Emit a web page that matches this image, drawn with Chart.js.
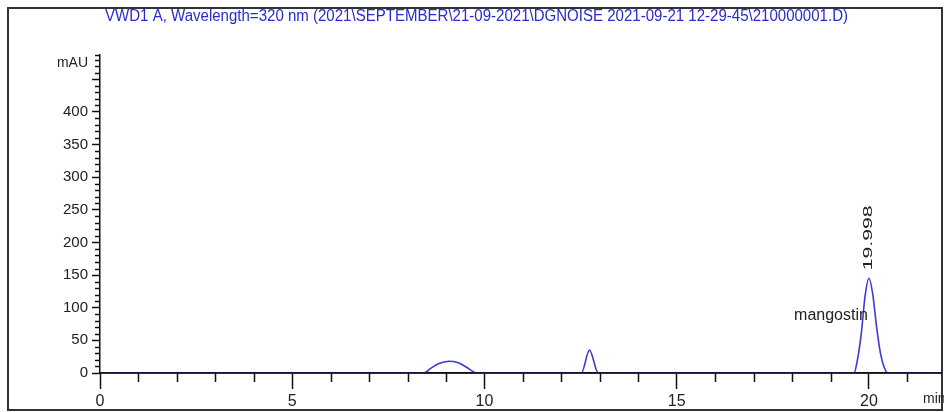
<!DOCTYPE html>
<html>
<head>
<meta charset="utf-8">
<script src="https://cdn.jsdelivr.net/npm/chart.js@4.4.1/dist/chart.umd.min.js"></script>
<style>
  body { margin: 0; background: #fff; }
  canvas { display: block; }
</style>
</head>
<body>
<canvas id="chromatogram" width="944" height="412"></canvas>
<script>
// chromatogram trace (time in min, absorbance in mAU)
const traceTime = [0, 8.42, 8.6, 8.8, 9.07, 9.3, 9.5, 9.8, 12.52, 12.73, 12.96,
  19.61, 19.7, 19.8, 19.9, 20.0, 20.1, 20.2, 20.3, 20.4, 20.5, 21.9];
const traceMAU = [0, 0, 7, 14, 18, 16, 10, 0, 0, 35, 0,
  0, 20, 60, 118, 145, 120, 70, 30, 8, 0, 0];

const xMajorTicks = [0, 5, 10, 15, 20];
const yTickLabels = [0, 50, 100, 150, 200, 250, 300, 350, 400];

const peakName = 'mangostin';
const peakTime = 19.998;
const peakLabel = '19.998';

const titleText = 'VWD1 A, Wavelength=320 nm (2021\\SEPTEMBER\\21-09-2021\\DGNOISE 2021-09-21 12-29-45\\210000001.D)';

const ctx = document.getElementById('chromatogram');

const points = traceTime.map((t, i) => ({ x: t, y: traceMAU[i] }));

// frame, title, minor ticks and the peak annotations
const decorations = {
  id: 'decorations',
  beforeDraw(chart) {
    const c = chart.ctx;
    c.save();
    c.fillStyle = '#fff';
    c.fillRect(0, 0, chart.width, chart.height);
    c.restore();
  },
  afterDraw(chart) {
    const c = chart.ctx;
    const x = chart.scales.x;
    const y = chart.scales.y;
    const area = chart.chartArea;
    c.save();

    // outer frame
    c.strokeStyle = '#333';
    c.lineWidth = 2;
    c.strokeRect(8, 8, 934, 402);

    // title, squeezed to fit like the original
    c.fillStyle = '#2a2ad0';
    c.font = '16px "Liberation Sans Narrow", "Liberation Sans", Arial, sans-serif';
    c.textBaseline = 'middle';
    c.textAlign = 'left';
    const w = c.measureText(titleText).width;
    c.save();
    c.translate(105, 17);
    c.scale(743 / w, 1);
    c.fillText(titleText, 0, 0);
    c.restore();

    // baseline axis drawn over the trace, as in the original
    c.strokeStyle = '#111';
    c.lineWidth = 1.5;
    c.beginPath();
    const by = y.getPixelForValue(0);
    c.moveTo(area.left, by);
    c.lineTo(area.right, by);
    c.stroke();

    // minor ticks
    c.beginPath();
    for (let t = 1; t <= x.max; t++) {
      if (t % 5 === 0) continue;
      const px = Math.round(x.getPixelForValue(t)) + 0.5;
      c.moveTo(px, area.bottom);
      c.lineTo(px, area.bottom + 9);
    }
    for (let v = 10; v <= y.max; v += 10) {
      if (v % 50 === 0) continue;
      const py = Math.round(y.getPixelForValue(v)) + 0.5;
      c.moveTo(area.left, py);
      c.lineTo(area.left - 5, py);
    }
    c.moveTo(area.left, area.top + 0.5);
    c.lineTo(area.left - 5, area.top + 0.5);
    c.stroke();

    // unit labels
    c.fillStyle = '#222';
    c.font = '14px "Liberation Sans", Arial, sans-serif';
    c.textAlign = 'right';
    c.textBaseline = 'middle';
    c.fillText('mAU', 88, 63);
    c.textAlign = 'left';
    c.fillText('min', 923, 399);

    // peak annotations
    const px = x.getPixelForValue(peakTime);
    const top = y.getPixelForValue(145);
    c.font = '16px "Liberation Sans", Arial, sans-serif';
    c.textAlign = 'right';
    c.fillText(peakName, px - 1, y.getPixelForValue(88));

    c.save();
    c.translate(px, top - 8);
    c.rotate(-Math.PI / 2);
    c.font = '13px "Liberation Sans", Arial, sans-serif';
    const lw = c.measureText(peakLabel).width;
    c.scale(65 / lw, 1);
    c.textAlign = 'left';
    c.fillText(peakLabel, 0, 0);
    c.restore();

    c.restore();
  }
};

new Chart(ctx, {
  type: 'line',
  data: {
    datasets: [{
      data: points,
      borderColor: '#3b3bd6',
      borderWidth: 1.6,
      pointRadius: 0,
      cubicInterpolationMode: 'monotone',
      fill: false
    }]
  },
  options: {
    responsive: false,
    animation: false,
    layout: { padding: { left: 0, right: 2, top: 55, bottom: 0 } },
    plugins: {
      legend: { display: false },
      tooltip: { enabled: false }
    },
    scales: {
      x: {
        type: 'linear',
        min: 0,
        max: 21.9,
        afterFit: s => { s.height = 39; },
        afterBuildTicks: s => { s.ticks = xMajorTicks.map(v => ({ value: v })); },
        grid: { drawOnChartArea: false, tickLength: 16, tickWidth: 1.5, tickColor: '#111' },
        border: { display: true, color: '#111', width: 1.5 },
        ticks: {
          padding: 3,
          maxRotation: 0,
          autoSkip: false,
          color: '#222',
          font: { family: '"Liberation Sans", Arial, sans-serif', size: 16 }
        }
      },
      y: {
        min: 0,
        max: 487,
        afterFit: s => { s.width = 100; },
        afterBuildTicks: s => {
          s.ticks = yTickLabels.concat([450]).map(v => ({ value: v }));
        },
        grid: { drawOnChartArea: false, tickLength: 8, tickWidth: 1.5, tickColor: '#111' },
        border: { display: true, color: '#111', width: 1.5 },
        ticks: {
          padding: 4,
          autoSkip: false,
          color: '#222',
          font: { family: '"Liberation Sans", Arial, sans-serif', size: 15 },
          callback: v => (yTickLabels.includes(v) ? String(v) : '')
        }
      }
    }
  },
  plugins: [decorations]
});
</script>
</body>
</html>
